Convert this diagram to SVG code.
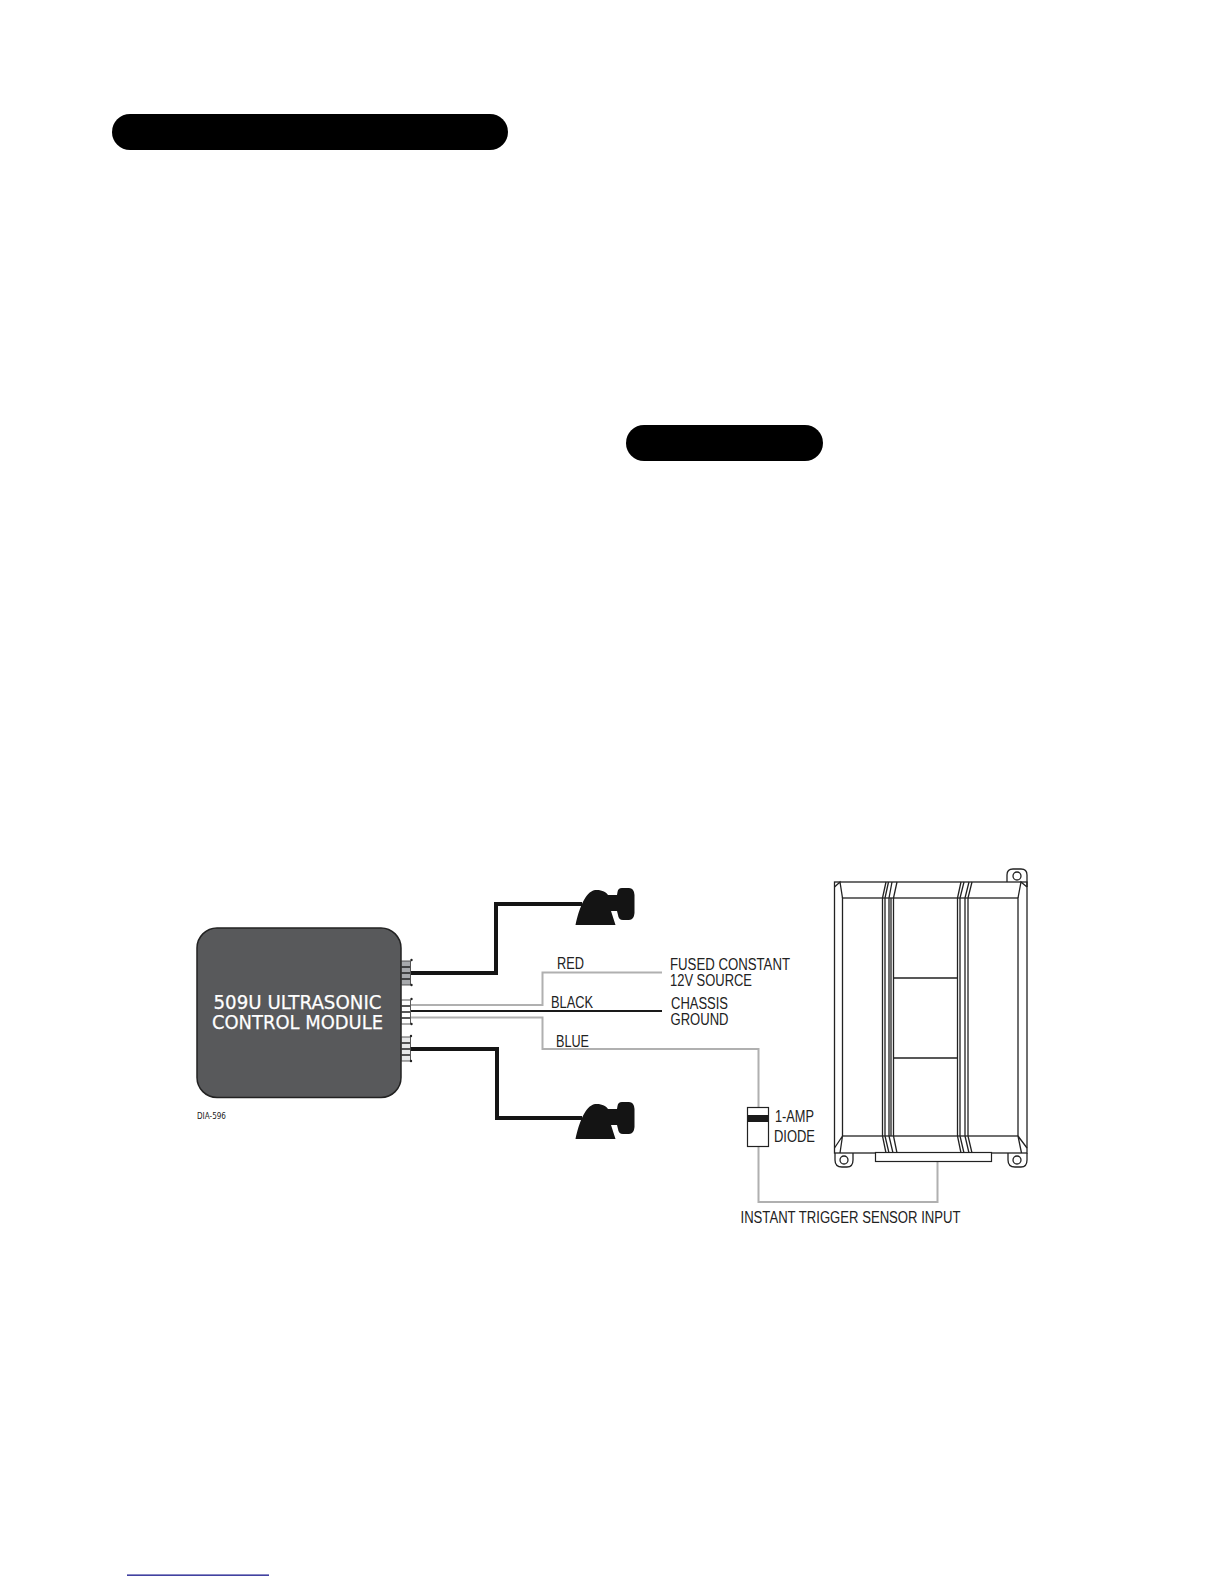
<svg xmlns="http://www.w3.org/2000/svg" width="1224" height="1584" viewBox="0 0 1224 1584">
<style>
.lbl{font-family:"Liberation Sans",Arial,sans-serif;font-size:16px;fill:#222}
.mod{font-family:"DejaVu Sans",Tahoma,sans-serif;font-size:20px;fill:#fff;stroke:#fff;stroke-width:.25;text-anchor:middle}
.thick{fill:none;stroke:#151515;stroke-width:4}
.grey{fill:none;stroke:#b0b0b0;stroke-width:2}
.ln{fill:none;stroke:#222;stroke-width:1.300}
.sp{fill:#141414}
.pin{fill:#222}
</style>
<defs>
<g id="speaker"><path class="sp" d="M575.500 925C579 909 585 892 595 890C602 889.500 606 892 608 895L617 895L617.500 892Q618 888 622 888L629 888Q634 888 634.500 895L634.500 913Q634 920 629 920L623 920Q618.500 920 618 915L617 911L611 911L615.500 925Z"/></g>
</defs>
<rect width="1224" height="1584" fill="#fff"/>
<g id="pill-top"><rect x="112" y="114" width="396" height="36" rx="18" fill="#000"/></g>
<g id="pill-mid"><rect x="626" y="425" width="197" height="36" rx="18" fill="#000"/></g>
<g id="link-line"><rect x="127" y="1574.500" width="142" height="1.300" fill="#14148a"/></g>
<g id="connectors">
<path class="thick" d="M411 973H496V904H582"/>
<path class="thick" d="M410 1049H497V1118H582"/>
<path class="grey" d="M411 1005H542.500V972.500H662"/>
<path d="M411 1011H662" fill="none" stroke="#1a1a1a" stroke-width="2"/>
<path class="grey" d="M411 1017.500H542.500V1049H758.500V1107"/>
<path class="grey" d="M758.500 1146V1202H937.500V1161"/>
</g>
<g id="control-module">
<rect x="197" y="928" width="204" height="169.500" rx="20" fill="#58595b" stroke="#222" stroke-width="1.500"/>
<text class="mod" x="297.500" y="1009" textLength="168" lengthAdjust="spacingAndGlyphs">509U ULTRASONIC</text>
<text class="mod" x="297.500" y="1029" textLength="171" lengthAdjust="spacingAndGlyphs">CONTROL MODULE</text>
</g>
<g id="plug-top">
<rect x="401.500" y="961" width="9" height="24" fill="#a7a9ac" stroke="#333" stroke-width=".8"/>
<path class="ln" d="M401.500 967H410M401.500 973H410M401.500 979H410"/>
<circle class="pin" cx="411.500" cy="960" r="1.200"/><circle class="pin" cx="411.500" cy="985" r="1.200"/>
</g>
<g id="plug-mid">
<rect x="401.500" y="1000" width="9" height="24" fill="#fff" stroke="#333" stroke-width=".8"/>
<path class="ln" d="M401.500 1006H410M401.500 1012H410M401.500 1018H410"/>
<circle class="pin" cx="411.500" cy="999" r="1.200"/><circle class="pin" cx="411.500" cy="1024" r="1.200"/>
</g>
<g id="plug-bottom">
<rect x="401.500" y="1037" width="9" height="24" fill="#e6e7e8" stroke="#333" stroke-width=".8"/>
<path class="ln" d="M401.500 1043H410M401.500 1049H410M401.500 1055H410"/>
<circle class="pin" cx="411" cy="1036" r="1.200"/><circle class="pin" cx="411" cy="1061" r="1.200"/>
</g>
<text id="dia-label" x="197" y="1119" style="font-family:'DejaVu Sans',sans-serif;font-size:8px;fill:#222" textLength="29" lengthAdjust="spacingAndGlyphs">DIA-596</text>
<g id="speaker-top"><use href="#speaker"/></g>
<g id="speaker-bottom"><use href="#speaker" y="214"/></g>
<g id="diode">
<rect x="747.500" y="1107.500" width="21" height="39" fill="#fff" stroke="#222" stroke-width="1.200"/>
<rect x="747.500" y="1115" width="21" height="7" fill="#1a1a1a"/>
</g>
<g id="sensor">
<path d="M1007 882V875Q1007 869 1013 869H1021Q1027 869 1027 875V887" class="ln"/>
<circle class="ln" cx="1017" cy="876" r="4"/>
<path class="ln" d="M835 1153V1160Q835 1167 842 1167H847Q853 1167 853 1160V1153"/>
<circle class="ln" cx="844" cy="1160" r="4"/>
<path class="ln" d="M1008 1153V1160Q1008 1167 1015 1167H1021Q1027 1167 1027 1160V1153"/>
<circle class="ln" cx="1017" cy="1160" r="4"/>
<rect class="ln" x="834.500" y="882" width="192.500" height="271"/>
<rect class="ln" x="842.500" y="898" width="175.500" height="238"/>
<path class="ln" d="M834.500 887L840 882L842.500 898M1027 887L1021 882L1018 898M834.500 1148L842.500 1136L840 1153M1027 1148L1018 1136L1021.500 1153"/>
<path class="ln" d="M893 978H957M893 1058H957"/>
<path class="ln" d="M882.500 898V1136M885 898V1136M889 898V1136M891 898V1136M893.500 898V1136"/>
<path class="ln" d="M957.500 898V1136M960 898V1136M965 898V1136M968 898V1136"/>
<path class="ln" d="M882.500 898L886 882M885 898L888.500 882M889 898L892 882M893.500 898L897 882"/>
<path class="ln" d="M957.500 898L961 882M960 898L964 882M965 898L969 882M968 898L972 882"/>
<path class="ln" d="M882.500 1136L886 1153M885 1136L889 1153M889 1136L893 1153M893.500 1136L897 1153"/>
<path class="ln" d="M957.500 1136L961 1153M960 1136L964 1153M965 1136L969 1153M968 1136L972 1153"/>
<rect x="875.500" y="1152.500" width="116" height="9" fill="#fff" stroke="#222" stroke-width="1.200"/>
</g>
<g id="labels">
<text class="lbl" x="557" y="969" textLength="27" lengthAdjust="spacingAndGlyphs">RED</text>
<text class="lbl" x="551" y="1008" textLength="42" lengthAdjust="spacingAndGlyphs">BLACK</text>
<text class="lbl" x="556" y="1047" textLength="33" lengthAdjust="spacingAndGlyphs">BLUE</text>
<text class="lbl" x="670" y="970" textLength="120" lengthAdjust="spacingAndGlyphs">FUSED CONSTANT</text>
<text class="lbl" x="670" y="986" textLength="82" lengthAdjust="spacingAndGlyphs">12V SOURCE</text>
<text class="lbl" x="671" y="1009" textLength="57" lengthAdjust="spacingAndGlyphs">CHASSIS</text>
<text class="lbl" x="670.500" y="1025" textLength="58" lengthAdjust="spacingAndGlyphs">GROUND</text>
<text class="lbl" x="775" y="1122" textLength="39" lengthAdjust="spacingAndGlyphs">1-AMP</text>
<text class="lbl" x="774" y="1142" textLength="41" lengthAdjust="spacingAndGlyphs">DIODE</text>
<text class="lbl" x="740.500" y="1223" textLength="220" lengthAdjust="spacingAndGlyphs">INSTANT TRIGGER SENSOR INPUT</text>
</g>
</svg>
